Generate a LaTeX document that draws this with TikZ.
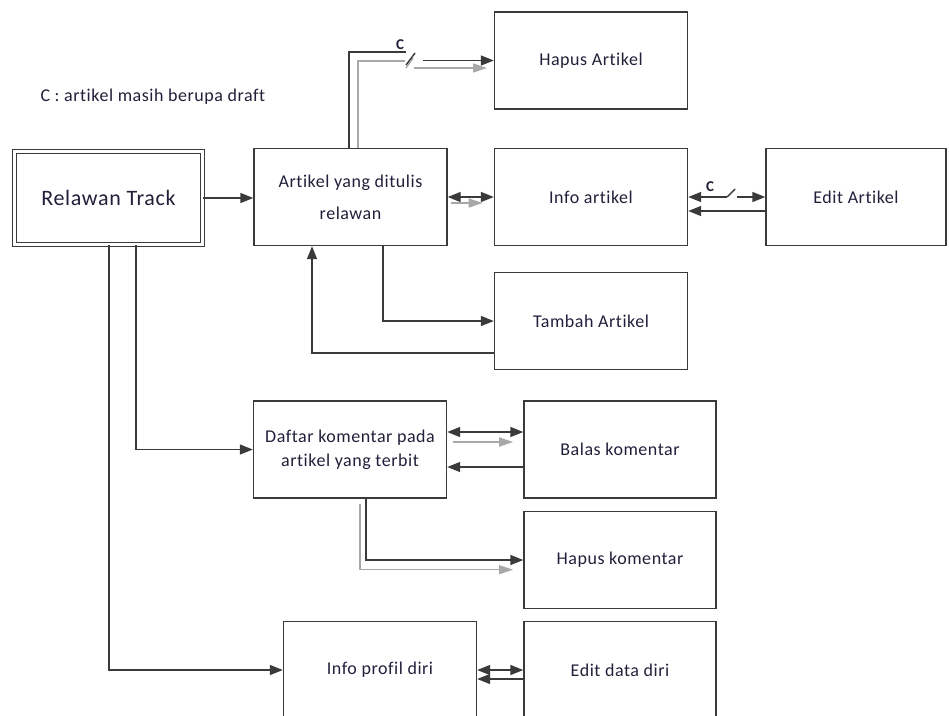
\documentclass[tikz,border=0pt]{standalone}
\usepackage{fontspec}
\setmainfont{Carlito}[Ligatures=NoCommon, LetterSpace=3]
\usetikzlibrary{arrows.meta}
\definecolor{wirec}{HTML}{3A3A3A}
\definecolor{grayc}{HTML}{A8A8A8}
\definecolor{textc}{HTML}{20203A}
\tikzset{box/.style = {draw=wirec, line width=1.4pt, minimum width=193pt, minimum height=97pt,
                       inner sep=2pt, align=center, text=textc, font=\fontsize{18}{22}\selectfont}}
\tikzset{wire/.style = {draw=wirec, line width=1.4pt, >={Triangle[length=13pt,width=10pt]}}}
\tikzset{gwire/.style = {draw=grayc, line width=1.4pt, >={Triangle[length=14pt,width=9pt]}}}
\tikzset{clabel/.style = {text=textc, font=\bfseries\fontsize{15}{17}\selectfont, inner sep=0}}

\begin{document}
\begin{tikzpicture}[x=1pt, y=-1pt]
    \useasboundingbox (0,0) rectangle (949,715);

    \node [box, double=white, double distance=3pt, line width=1.3pt, minimum width=188pt, minimum height=93pt,
           font=\fontsize{22}{26}\selectfont] (relawan) at (108.5,198) {Relawan Track};
    \node [box] (artikel) at (350.5,197) {Artikel yang ditulis\\[10pt]relawan};
    \node [box] (hapusart) at (591,60.5) {Hapus Artikel};
    \node [box] (infoart) at (591,197) {Info artikel};
    \node [box, minimum width=180pt] (editart) at (856,197) {Edit Artikel};
    \node [box] (tambah) at (591,321) {Tambah Artikel};
    \node [box] (daftar) at (350,449.5) {Daftar komentar pada\\[2pt]artikel yang terbit};
    \node [box, minimum width=192pt] (balas) at (620,449.5) {Balas komentar};
    \node [box, minimum width=192pt] (hapuskom) at (620,560) {Hapus komentar};
    \node [box] (profil) at (380,670) {Info profil diri};
    \node [box, minimum width=192pt] (editdiri) at (620,670) {Edit data diri};

    \node [anchor=west, text=textc, font=\fontsize{18}{22}\selectfont] (ket) at (37,97) {C : artikel masih berupa draft};

    \draw [wire, ->] (relawan.east) -- (relawan.east -| artikel.west);

    % switch to Hapus Artikel
    \coordinate (gsw1in) at (405,61);
    \coordinate (gsw1out) at (414,68);
    \draw [gwire] ([xshift=7.5pt]artikel.north) |- (gsw1in);
    \draw [gwire] (406,68) -- (413,58);
    \draw [gwire, ->] (gsw1out) -- ++(73,0) coordinate (gsw1end);
    \coordinate (sw1in) at (406,52);
    \coordinate (sw1out) at (423,60.5);
    \draw [wire] ([xshift=-1.5pt]artikel.north) |- (sw1in);
    \draw [wire] (406,65) -- (415,53);
    \draw [wire, ->] (sw1out) -- (hapusart.west);
    \node [clabel] (c1) at (400,45) {C};

    \draw [wire, <->] (artikel.east) -- (infoart.west);
    \draw [gwire, ->] ([xshift=3pt, yshift=-6pt]artikel.east) -- ++(32,0) coordinate (g1end);

    % switch to Edit Artikel
    \coordinate (sw2in) at (727,197);
    \coordinate (sw2out) at (737,197);
    \draw [wire, ->] (sw2in) -- (infoart.east);
    \draw [wire] (sw2in) -- (735,189);
    \draw [wire, ->] (sw2out) -- (editart.west);
    \draw [wire, ->] ([yshift=-14pt]editart.west) -- ([yshift=-14pt]infoart.east);
    \node [clabel] (c2) at (710,187) {C};

    \draw [wire, ->] ([xshift=32.5pt]artikel.south) |- (tambah.west);
    \draw [wire, ->] ([yshift=-32pt]tambah.west) -| ([xshift=-38.5pt]artikel.south);

    \draw [wire, ->] ([xshift=27.5pt]relawan.south) |- (daftar.west);
    \draw [wire, ->] ([xshift=0.5pt]relawan.south) |- (profil.west);

    \draw [wire, <->] ([yshift=17.5pt]daftar.east) -- ([yshift=17.5pt]balas.west);
    \draw [gwire, ->] ([xshift=6pt, yshift=7.5pt]daftar.east) -- ++(60,0) coordinate (g2end);
    \draw [wire, ->] ([yshift=-17.5pt]balas.west) -- ([yshift=-17.5pt]daftar.east);

    \draw [gwire, ->] ([xshift=10pt, yshift=-5pt]daftar.south) |- ++(153,66) coordinate (g3end);
    \draw [wire, ->] ([xshift=16pt]daftar.south) |- (hapuskom.west);

    \draw [wire, <->] (profil.east) -- (editdiri.west);
    \draw [wire, ->] ([yshift=-9pt]editdiri.west) -- ([yshift=-9pt]profil.east);
\end{tikzpicture}
\end{document}
